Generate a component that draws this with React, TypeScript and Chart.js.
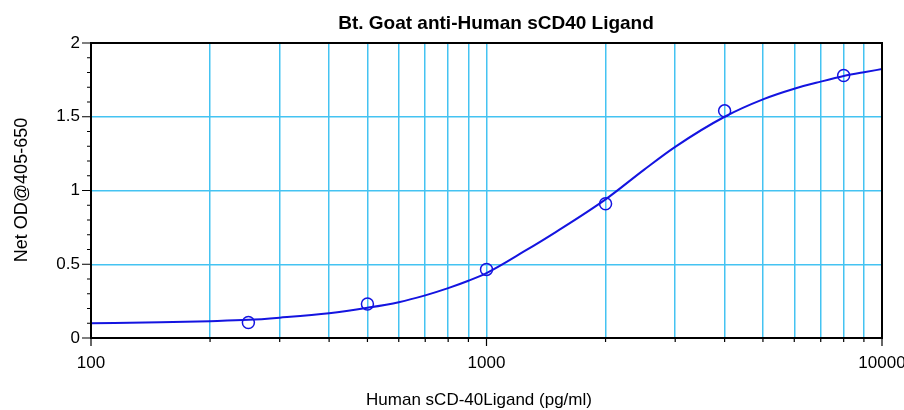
import React, { useEffect, useRef } from "react";
import { Chart, registerables } from "chart.js";

Chart.register(...registerables);

const TITLE = "Bt. Goat anti-Human sCD40 Ligand";
const X_TITLE = "Human sCD-40Ligand (pg/ml)";
const Y_TITLE = "Net OD@405-650";

// measured standards
const pointX = [250, 500, 1000, 2000, 4000, 8000];
const pointY = [0.105, 0.23, 0.465, 0.91, 1.54, 1.78];

// fitted curve
const curveX = [100, 150, 200, 250, 300, 400, 500, 600, 700, 800, 900, 1000, 1250, 1500, 2000, 2500, 3000, 4000, 5000, 6000, 7000, 8000, 9000, 10000];
const curveY = [0.1, 0.106, 0.114, 0.123, 0.138, 0.168, 0.205, 0.243, 0.289, 0.338, 0.388, 0.44, 0.59, 0.72, 0.94, 1.14, 1.296, 1.5, 1.618, 1.69, 1.738, 1.776, 1.802, 1.823];

const xTicks = [100, 200, 300, 400, 500, 600, 700, 800, 900, 1000, 2000, 3000, 4000, 5000, 6000, 7000, 8000, 9000, 10000];
const xLabelled = [100, 1000, 10000];
const yTicks = [0, 0.5, 1, 1.5, 2];
const yMinor = [0.1, 0.2, 0.3, 0.4, 0.6, 0.7, 0.8, 0.9, 1.1, 1.2, 1.3, 1.4, 1.6, 1.7, 1.8, 1.9];

const GRID = "#44c3f2";
const BLUE = "#1414e0";
const FONT = "'Liberation Sans', Arial, sans-serif";

const framePlugin = {
  id: "frame",
  afterDraw(chart: any) {
    const { ctx, chartArea: a, scales } = chart;
    const xs = scales.x, ys = scales.y;
    ctx.save();
    ctx.strokeStyle = "#000";
    ctx.lineWidth = 1.2;
    ctx.beginPath();
    for (const v of yTicks) {
      const p = ys.getPixelForValue(v);
      ctx.moveTo(a.left - 9, p); ctx.lineTo(a.left, p);
    }
    for (const v of yMinor) {
      const p = ys.getPixelForValue(v);
      ctx.moveTo(a.left - 4, p); ctx.lineTo(a.left, p);
    }
    for (const v of xTicks) {
      const p = xs.getPixelForValue(v);
      const len = xLabelled.includes(v) ? 8 : 4;
      ctx.moveTo(p, a.bottom); ctx.lineTo(p, a.bottom + len);
    }
    ctx.stroke();
    ctx.lineWidth = 2;
    ctx.strokeRect(a.left, a.top, a.right - a.left, a.bottom - a.top);

    ctx.fillStyle = "#000";
    ctx.textAlign = "center";
    ctx.textBaseline = "alphabetic";
    ctx.font = `bold 19px ${FONT}`;
    ctx.fillText(TITLE, 496, 29);
    ctx.font = `17px ${FONT}`;
    ctx.fillText(X_TITLE, 479, 405);
    ctx.font = `18px ${FONT}`;
    ctx.translate(27, 190);
    ctx.rotate(-Math.PI / 2);
    ctx.fillText(Y_TITLE, 0, 0);
    ctx.restore();
  },
};

export default function App() {
  const ref = useRef<HTMLCanvasElement>(null);
  useEffect(() => {
    if (!ref.current) return;
    const chart = new Chart(ref.current, {
      type: "scatter",
      data: {
        datasets: [
          {
            type: "line",
            data: curveX.map((x, i) => ({ x, y: curveY[i] })),
            borderColor: BLUE,
            borderWidth: 2,
            pointRadius: 0,
            cubicInterpolationMode: "monotone",
            fill: false,
          } as any,
          {
            data: pointX.map((x, i) => ({ x, y: pointY[i] })),
            borderColor: BLUE,
            backgroundColor: "rgba(0,0,0,0)",
            borderWidth: 1.5,
            pointRadius: 6,
            pointHoverRadius: 6,
            showLine: false,
          },
        ],
      },
      options: {
        animation: false,
        responsive: true,
        maintainAspectRatio: false,
        layout: { padding: { left: 0, right: 22, top: 43, bottom: 0 } },
        plugins: { legend: { display: false }, tooltip: { enabled: false }, title: { display: false } },
        scales: {
          x: {
            type: "logarithmic",
            min: 100,
            max: 10000,
            afterBuildTicks: (s: any) => { s.ticks = xTicks.map((v) => ({ value: v })); },
            afterFit: (s: any) => { s.height = 72; s.paddingLeft = 0; s.paddingRight = 0; },
            grid: {
              drawTicks: false,
              color: (c: any) => (c.tick && (c.tick.value === 100 || c.tick.value === 10000) ? "rgba(0,0,0,0)" : GRID),
              lineWidth: 1.5,
            },
            border: { display: false },
            ticks: {
              autoSkip: false,
              maxRotation: 0,
              padding: 15,
              color: "#000",
              font: { family: FONT, size: 17 },
              callback: (v: any) => (xLabelled.includes(Number(v)) ? String(v) : ""),
            },
          },
          y: {
            min: 0,
            max: 2,
            afterBuildTicks: (s: any) => { s.ticks = yTicks.map((v) => ({ value: v })); },
            afterFit: (s: any) => { s.width = 91; },
            grid: {
              drawTicks: false,
              color: (c: any) => (c.tick && (c.tick.value === 0 || c.tick.value === 2) ? "rgba(0,0,0,0)" : GRID),
              lineWidth: 1.5,
            },
            border: { display: false },
            ticks: {
              padding: 11,
              color: "#000",
              font: { family: FONT, size: 17 },
              callback: (v: any) => String(v),
            },
          },
        },
      },
      plugins: [framePlugin],
    });
    return () => chart.destroy();
  }, []);
  return (
    <div style={{ position: "fixed", left: 0, top: 0, width: 904, height: 410, background: "#fff" }}>
      <canvas ref={ref} />
    </div>
  );
}
